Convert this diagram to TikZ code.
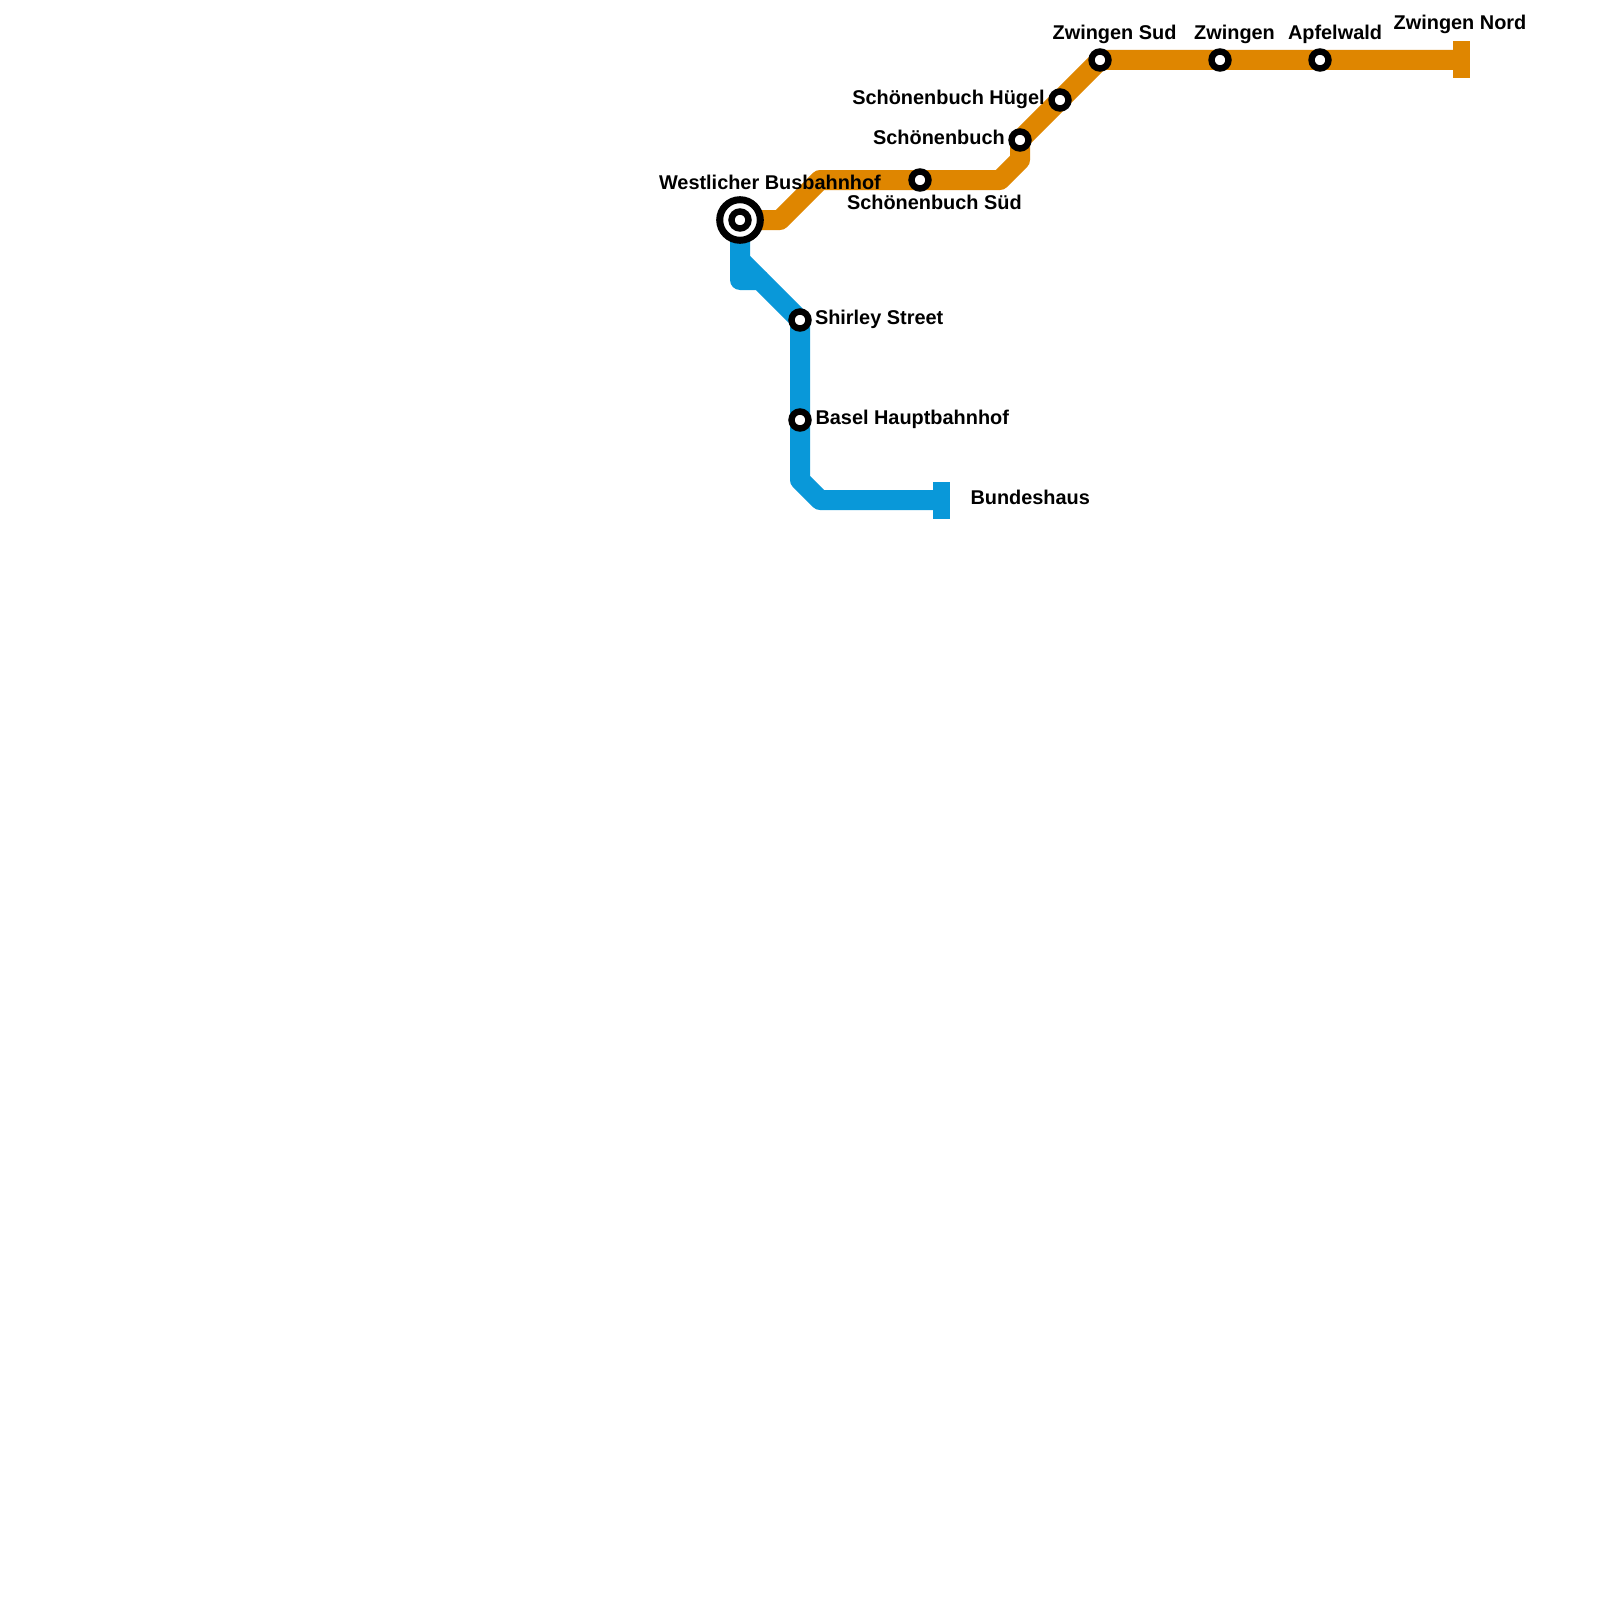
\documentclass[tikz,border=0pt]{standalone}
\usepackage{fontspec}
\setmainfont{Liberation Sans}
\usetikzlibrary{backgrounds}
\definecolor{lineorange}{RGB}{223,134,0}
\definecolor{lineblue}{RGB}{9,152,217}
\tikzset{
  x=1pt,y=-1pt,
  stn/.style={circle,draw=black,fill=white,line width=6.4pt,minimum size=17pt,inner sep=0pt,outer sep=0pt},
  hubouter/.style={circle,draw=black,fill=white,line width=7pt,minimum size=40.6pt,inner sep=0pt,outer sep=0pt},
  route/.style={line width=20pt,line join=round,line cap=butt},
  lab/.style={font=\fontsize{19.9}{24}\selectfont\bfseries,inner sep=0pt,outer sep=0pt,text=black},
  endbar/.style={rectangle,minimum width=17pt,minimum height=37pt,inner sep=0pt,outer sep=0pt,draw=none}
}
\begin{document}
\begin{tikzpicture}
\useasboundingbox (0,0) rectangle (1600,1600);
% stations
\node[hubouter] (westlicher) at (740,220) {};
\node[stn] (westlicherin) at (740,220) {};
\node[stn] (shirley) at (800,320) {};
\node[stn] (basel) at (800,420) {};
\node[stn] (sued) at (920,180) {};
\node[stn] (schoen) at (1020,140) {};
\node[stn] (huegel) at (1060,100) {};
\node[stn] (zsud) at (1100,60) {};
\node[stn] (zwingen) at (1220,60) {};
\node[stn] (apfel) at (1320,60) {};
\coordinate (bundes) at (941.5,500);
\coordinate (znord) at (1461.5,60);
\coordinate (o1) at (780,220);
\coordinate (o2) at (820,180);
\coordinate (o3) at (1000,180);
\coordinate (o4) at (1020,160);
\coordinate (b0) at (740,260);
\coordinate (b1) at (740,280);
\coordinate (b2) at (760,280);
\coordinate (b3) at (800,480);
\coordinate (b4) at (820,500);
\begin{pgfonlayer}{background}
\fill[white] (0,0) rectangle (1600,1600);
\draw[route,lineorange] (westlicher.center) -- (o1) -- (o2) -- (sued.center) -- (o3) -- (o4) -- (schoen.center) -- (huegel.center) -- (zsud.center) -- (zwingen.center) -- (apfel.center) -- (znord);
\draw[route,lineblue] (westlicher.center) -- (b1) -- (b2) -- (shirley.center) -- (basel.center) -- (b3) -- (b4) -- (bundes);
\draw[route,lineblue] (b0) -- (b2);
\node[endbar,fill=lineorange] (znordbar) at (znord) {};
\node[endbar,fill=lineblue] (bundesbar) at (bundes) {};
\end{pgfonlayer}
% labels
\node[lab,anchor=base west] (l1) at (659,189) {Westlicher Busbahnhof};
\node[lab,anchor=base west] (l2) at (815,324.3) {Shirley Street};
\node[lab,anchor=base west] (l3) at (815.5,424.3) {Basel Hauptbahnhof};
\node[lab,anchor=base west] (l4) at (970.5,504.3) {Bundeshaus};
\node[lab,anchor=base west] (l5) at (847,209.5) {Schönenbuch Süd};
\node[lab,anchor=base east] (l6) at (1004.7,144.5) {Schönenbuch};
\node[lab,anchor=base east] (l7) at (1044.7,104.5) {Schönenbuch Hügel};
\node[lab,anchor=base] (l8) at (1114.5,39.7) {Zwingen Sud};
\node[lab,anchor=base] (l9) at (1234.5,39.7) {Zwingen};
\node[lab,anchor=base] (l10) at (1335,39.7) {Apfelwald};
\node[lab,anchor=base] (l11) at (1460,29.7) {Zwingen Nord};
\end{tikzpicture}
\end{document}
